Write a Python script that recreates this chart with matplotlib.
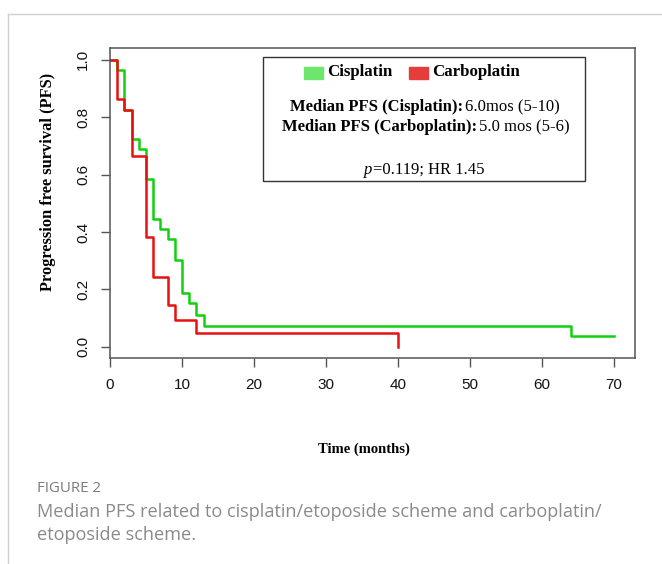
import numpy as np
import matplotlib
matplotlib.use('Agg')
import matplotlib.pyplot as plt
from matplotlib.patches import Rectangle
from matplotlib.lines import Line2D

# Kaplan-Meier PFS steps
cis_time = [0, 1, 2, 3, 4, 5, 6, 7, 8, 9, 10, 11, 12, 13, 64, 70]
cis_surv = [1.0, 0.964, 0.826, 0.723, 0.688, 0.584, 0.445, 0.412, 0.377,
            0.302, 0.188, 0.151, 0.110, 0.073, 0.037, 0.037]
carbo_time = [0, 1, 2, 3, 5, 6, 8, 9, 12, 40]
carbo_surv = [1.0, 0.865, 0.826, 0.665, 0.384, 0.243, 0.144, 0.095, 0.047, 0.0]

x_ticks = [0, 10, 20, 30, 40, 50, 60, 70]
y_ticks = [0.0, 0.2, 0.4, 0.6, 0.8, 1.0]

W, H = 662, 564
SERIF = 'Liberation Serif'
SANS = 'Liberation Sans'
CAP = 'Open Sans'

def fx(px):
  return px / W

def fy(py):
  return 1 - py / H

#------------------------------------------------------------------------------
def two_part(fig, renderer, cx, py, left, right, left_kw, right_kw, gap=2):
  # draw "left right" centred on cx, with different font styles per part
  a = fig.text(0, fy(py), left, ha='left', va='center', **left_kw)
  b = fig.text(0, fy(py), right, ha='left', va='center', **right_kw)
  wa = a.get_window_extent(renderer).width
  wb = b.get_window_extent(renderer).width
  x0 = cx - (wa + gap + wb) / 2
  a.set_x(fx(x0))
  b.set_x(fx(x0 + wa + gap))

#------------------------------------------------------------------------------
fig = plt.figure(figsize=(W / 100, H / 100), dpi=100)
renderer = fig.canvas.get_renderer()
ax = fig.add_axes([fx(110), fy(358.3), fx(635) - fx(110), fy(48.3) - fy(358.3)])

ax.step(cis_time, cis_surv, where='post', color='#10d010', lw=1.8)
ax.step(carbo_time, carbo_surv, where='post', color='#e81010', lw=1.8)

ax.set_xlim(0, 72.9)
ax.set_ylim(-0.04, 1.04)
ax.set_xticks(x_ticks)
ax.set_yticks(y_ticks)
ax.set_yticklabels(['{:.1f}'.format(v) for v in y_ticks], rotation=90, va='center')
for s in ax.spines.values():
  s.set_color('#555555')
  s.set_linewidth(1.1)
ax.tick_params(direction='out', length=6.3, width=1.0, color='#555555',
               labelsize=11, labelcolor='#111111')
ax.tick_params(axis='x', pad=8)
ax.tick_params(axis='y', pad=8)
for lab in ax.get_xticklabels() + ax.get_yticklabels():
  lab.set_family(SANS)

fig.text(fx(364), fy(449), 'Time (months)', family=SERIF, weight='bold',
         fontsize=10.5, ha='center', va='center')
fig.text(fx(48), fy(182), 'Progression free survival (PFS)', family=SERIF,
         weight='bold', fontsize=11.8, rotation=90, ha='center', va='center')

# legend box with the medians
fig.patches.append(Rectangle((fx(262.7), fy(180.7)), fx(585) - fx(262.7),
                             fy(57.3) - fy(180.7), transform=fig.transFigure,
                             fill=False, edgecolor='#333333', lw=1.0))
for x0, col, name in [(304, '#6ee66e', 'Cisplatin'), (409, '#e63c3c', 'Carboplatin')]:
  fig.patches.append(Rectangle((fx(x0), fy(79)), fx(19), fy(67) - fy(79),
                               transform=fig.transFigure, color=col))
  fig.text(fx(x0 + 23), fy(71.5), name, family=SERIF, weight='bold',
           fontsize=12.2, ha='left', va='center')

bold = dict(family=SERIF, weight='bold', fontsize=12)
plain = dict(family=SERIF, fontsize=12)
two_part(fig, renderer, 425, 107, 'Median PFS (Cisplatin):', '6.0mos (5-10)', bold, plain)
two_part(fig, renderer, 425.5, 127, 'Median PFS (Carboplatin):', '5.0 mos (5-6)', bold, plain)
two_part(fig, renderer, 424.5, 170, 'p', '=0.119; HR 1.45',
         dict(family=SERIF, style='italic', fontsize=12), plain, gap=0.5)

# page frame and caption
fig.add_artist(Line2D([fx(8), 1], [fy(13.5), fy(13.5)], transform=fig.transFigure,
                      color='#d0d0d0', lw=1.0))
fig.add_artist(Line2D([fx(8), fx(8)], [fy(13.5), 0], transform=fig.transFigure,
                      color='#d0d0d0', lw=1.0))
fig.text(fx(37), fy(488), 'FIGURE 2', family=CAP, fontsize=10.8, color='#7a7a7a',
         ha='left', va='center')
fig.text(fx(37), fy(512), 'Median PFS related to cisplatin/etoposide scheme and carboplatin/',
         family=CAP, fontsize=13.1, color='#8a8a8a', ha='left', va='center')
fig.text(fx(37), fy(535), 'etoposide scheme.', family=CAP, fontsize=13.1,
         color='#8a8a8a', ha='left', va='center')

fig.savefig('out.png', dpi=100)
